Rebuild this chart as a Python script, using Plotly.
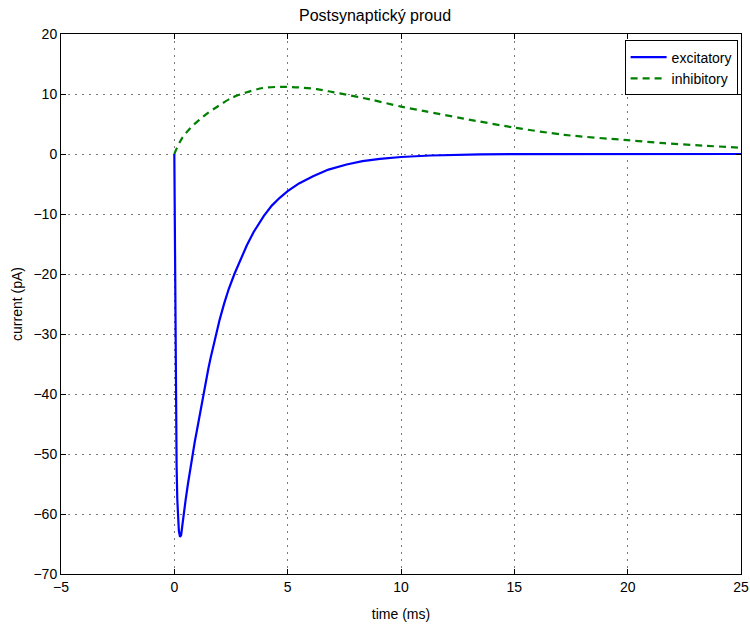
import plotly.graph_objects as go

title_text = "Postsynaptický proud"
x_label = "time (ms)"
y_label = "current (pA)"

# excitatory current (pA)
exc_t = [0.0, 0.02, 0.04, 0.06, 0.08, 0.10, 0.13, 0.16, 0.2, 0.25, 0.3, 0.35, 0.41, 0.5, 0.6, 0.7,
         0.81, 0.9, 1.0, 1.1, 1.2, 1.28, 1.4, 1.5, 1.6, 1.7, 1.84, 2.0, 2.2, 2.4, 2.65, 2.9,
         3.2, 3.5, 3.95, 4.3, 4.65, 5.0, 5.5, 6.12, 6.8, 7.6, 8.3, 9.07, 10.0, 11.3, 12.5,
         13.5, 15.0, 17.0, 20.0, 25.0]
exc_v = [0.0, -14.0, -27.0, -38.0, -46.0, -52.0, -57.5, -60.5, -62.8, -63.8, -63.5, -62.0, -60.0, -57.6, -55.0, -52.5,
         -50.0, -48.0, -46.0, -43.9, -41.7, -40.0, -37.7, -35.8, -34.0, -32.3, -30.0, -27.6, -24.9, -22.5, -20.0, -17.7,
         -15.2, -13.0, -10.3, -8.6, -7.3, -6.2, -4.9, -3.7, -2.6, -1.75, -1.2, -0.8, -0.5, -0.25, -0.13,
         -0.07, -0.03, -0.01, 0.0, 0.0]

# inhibitory current (pA)
inh_t = [0.0, 0.1, 0.35, 0.7, 1.1, 1.5, 1.86, 2.5, 3.2, 3.9, 4.7, 5.5, 6.3, 7.0, 7.3, 8.63, 10.0,
         11.1, 12.76, 15.0, 17.2, 20.0, 21.6, 23.3, 25.0]
inh_v = [0.0, 0.9, 2.7, 4.3, 5.7, 6.9, 7.8, 9.3, 10.3, 11.0, 11.2, 11.1, 10.8, 10.3, 10.1, 9.1, 7.9,
         7.1, 5.9, 4.4, 3.2, 2.3, 1.8, 1.4, 1.05]

x_ticks = [-5, 0, 5, 10, 15, 20, 25]
y_ticks = [-70, -60, -50, -40, -30, -20, -10, 0, 10, 20]

def lbl(v):
    return ("\u2212" + str(-v)) if v < 0 else str(v)

fig = go.Figure()
fig.add_trace(go.Scatter(x=exc_t, y=exc_v, mode="lines", name="excitatory",
                         line=dict(color="#0000ff", width=2.2)))
fig.add_trace(go.Scatter(x=inh_t, y=inh_v, mode="lines", name="inhibitory",
                         line=dict(color="#008000", width=2.2, dash="7px,5px", shape="spline", smoothing=0.8)))

axis_common = dict(
    showline=True, linecolor="black", linewidth=1, mirror="ticks",
    ticks="inside", ticklen=5, tickcolor="black", tickwidth=1,
    showgrid=True, gridcolor="#7a7a7a", gridwidth=1, griddash="1.5px,5.5px",
    zeroline=False, automargin=False,
    tickfont=dict(family="Liberation Sans, Arial", size=14, color="black"),
)

fig.update_layout(
    width=750, height=628,
    margin=dict(l=61, r=9, t=34, b=54),
    paper_bgcolor="white", plot_bgcolor="white",
    title=dict(text=title_text, x=0.5, xanchor="center", y=0.975, yanchor="middle",
               font=dict(family="Liberation Sans, Arial", size=16, color="black")),
    font=dict(family="Liberation Sans, Arial", color="black"),
    xaxis=dict(range=[-5, 25], tickvals=x_ticks, ticktext=[lbl(v) for v in x_ticks],
               title=dict(text=x_label, font=dict(size=14), standoff=15), **axis_common),
    yaxis=dict(range=[-70, 20], tickvals=y_ticks, ticktext=[lbl(v) for v in y_ticks],
               title=dict(text=y_label, font=dict(size=14), standoff=7), **axis_common),
    legend=dict(x=0.995, xanchor="right", y=0.988, yanchor="top",
                bgcolor="white", bordercolor="black", borderwidth=1,
                font=dict(family="Liberation Sans, Arial", size=14, color="black"),
                tracegroupgap=0, itemwidth=36),
    showlegend=True,
)

fig.write_html("out.html")
